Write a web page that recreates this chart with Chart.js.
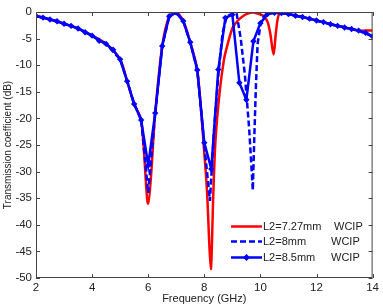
<!DOCTYPE html>
<html>
<head>
<meta charset="utf-8">
<script src="https://cdn.jsdelivr.net/npm/chart.js@4"></script>
<style>
  html, body { margin: 0; padding: 0; background: #fff; }
  #wrap { width: 383px; height: 305px; }
</style>
</head>
<body>
<div id="wrap"><canvas id="transChart" width="383" height="305"></canvas></div>
<script>
// WCIP transmission coefficient for three values of L2
const seriesLabels = ['L2=7.27mm', 'L2=8mm', 'L2=8.5mm'];
const methodLabels = ['WCIP', 'WCIP', 'WCIP'];

// L2=7.27mm (solid red)
const freqRed = [2, 2.5, 3, 3.5, 4, 4.5, 5, 5.25, 5.5, 5.75, 6, 6.25, 6.5, 6.75, 7, 7.25, 7.5, 7.75,
  8, 8.1, 8.23, 8.32, 8.4, 8.55, 8.7, 8.8, 9, 9.2, 9.4, 9.6, 9.75, 9.9, 10.1, 10.25, 10.35, 10.47,
  10.55, 10.65, 10.8, 11, 11.5, 12, 12.5, 13, 13.5, 13.75, 14];
const s21Red = [-0.75, -1.4, -2.2, -3.1, -4.45, -6.0, -8.9, -13.0, -17.3, -20.3, -36.0, -19.0, -6.4, -0.8, -0.1, -1.7, -5.7, -10.9,
  -26.5, -34.0, -48.3, -34.3, -24.0, -14.9, -9.0, -6.7, -3.1, -1.6, -0.7, -0.2, -0.1, -0.3, -0.7, -1.8, -4.0, -8.0,
  -4.0, -0.6, -0.2, -0.4, -0.95, -1.6, -2.3, -2.9, -3.5, -3.5, -3.5];

// L2=8mm (dashed blue)
const freqDash = [2, 2.5, 3, 3.5, 4, 4.5, 5, 5.25, 5.5, 5.75, 6, 6.25, 6.5, 6.75, 7, 7.25, 7.5, 7.75,
  8, 8.2, 8.35, 8.5, 8.65, 8.8, 9, 9.15, 9.3, 9.45, 9.6, 9.73, 9.78, 9.84, 9.9, 10, 10.1, 10.25,
  10.5, 11, 11.5, 12, 12.5, 13, 13.5, 14];
const s21Dash = [-0.75, -1.4, -2.2, -3.1, -4.45, -6.0, -8.9, -13.0, -17.3, -20.3, -34.0, -19.0, -6.4, -0.8, -0.1, -1.7, -5.7, -10.9,
  -25.0, -35.5, -22.0, -11.8, -4.0, -0.8, -0.3, -0.2, -5.0, -12.0, -22.0, -33.5, -24.0, -14.0, -6.0, -2.5, -1.0, -0.3,
  -0.15, -0.4, -0.95, -1.6, -2.3, -2.9, -3.5, -4.6];

// L2=8.5mm (line with markers), every 0.25 GHz
const freqStar = [2, 2.25, 2.5, 2.75, 3, 3.25, 3.5, 3.75, 4, 4.25, 4.5, 4.75, 5, 5.25, 5.5, 5.75,
  6, 6.25, 6.5, 6.75, 7, 7.25, 7.5, 7.75, 8, 8.25, 8.5, 8.75, 9, 9.25, 9.5, 9.75,
  10, 10.25, 10.5, 10.75, 11, 11.25, 11.5, 11.75, 12, 12.25, 12.5, 12.75, 13, 13.25, 13.5, 13.75, 14];
const s21Star = [-0.75, -1.05, -1.4, -1.75, -2.2, -2.6, -3.1, -3.8, -4.45, -5.4, -6.0, -7.1, -8.9, -13.0, -17.3, -20.3,
  -28.8, -19.0, -6.4, -0.8, -0.1, -1.7, -5.7, -10.9, -24.6, -29.5, -10.8, -1.1, -0.5, -13.3, -16.5, -5.5,
  -2.1, -0.4, -0.15, -0.2, -0.4, -0.7, -0.95, -1.25, -1.6, -1.9, -2.3, -2.6, -2.9, -3.2, -3.5, -3.9, -4.6];

const xTicks = [2, 4, 6, 8, 10, 12, 14];
const yTicks = [0, -5, -10, -15, -20, -25, -30, -35, -40, -45, -50];

function toPoints(xs, ys) {
  return xs.map((x, i) => ({ x: x, y: ys[i] }));
}

const RED = '#ff0000';
const BLUE = '#0000ff';
const FONT = 'Liberation Sans, Arial, sans-serif';

// box around the plot + inward tick marks (matlab style) + legend in the corner
const matlabFrame = {
  id: 'matlabFrame',
  afterDraw(chart) {
    const ctx = chart.ctx;
    const a = chart.chartArea;
    const xs = chart.scales.x, ys = chart.scales.y;
    ctx.save();
    ctx.strokeStyle = '#444';
    ctx.lineWidth = 1;
    ctx.strokeRect(a.left + 0.5, a.top + 0.5, a.right - a.left - 1, a.bottom - a.top - 1);
    ctx.beginPath();
    xTicks.forEach(v => {
      const px = Math.round(xs.getPixelForValue(v)) + 0.5;
      ctx.moveTo(px, a.bottom); ctx.lineTo(px, a.bottom - 4);
      ctx.moveTo(px, a.top); ctx.lineTo(px, a.top + 4);
    });
    yTicks.forEach(v => {
      const py = Math.round(ys.getPixelForValue(v)) + 0.5;
      ctx.moveTo(a.left, py); ctx.lineTo(a.left + 4, py);
      ctx.moveTo(a.right, py); ctx.lineTo(a.right - 4, py);
    });
    ctx.stroke();

    // legend
    const rows = [226, 241, 257];
    ctx.font = '11px ' + FONT;
    ctx.textBaseline = 'middle';
    chart.data.datasets.forEach((ds, i) => {
      const y = rows[i] + 0.5;
      ctx.strokeStyle = ds.borderColor;
      ctx.lineWidth = 2.5;
      ctx.setLineDash(ds.borderDash || []);
      ctx.beginPath();
      ctx.moveTo(231, y); ctx.lineTo(262, y);
      ctx.stroke();
      ctx.setLineDash([]);
      if (ds.pointRadius > 0) {
        ctx.fillStyle = ds.borderColor;
        ctx.beginPath();
        ctx.moveTo(246.5, y - 3.5); ctx.lineTo(250, y); ctx.lineTo(246.5, y + 3.5); ctx.lineTo(243, y);
        ctx.closePath();
        ctx.fill();
      }
      ctx.fillStyle = '#222';
      ctx.textAlign = 'left';
      ctx.fillText(ds.label, 263, y);
      ctx.fillText(methodLabels[i], i === 0 ? 334 : 331, y);
    });
    ctx.restore();
  }
};

const ctx = document.getElementById('transChart').getContext('2d');
new Chart(ctx, {
  type: 'line',
  data: {
    datasets: [
      {
        label: seriesLabels[0],
        data: toPoints(freqRed, s21Red),
        borderColor: RED,
        borderWidth: 2.5,
        pointRadius: 0,
        tension: 0.3,
        order: 3
      },
      {
        label: seriesLabels[1],
        data: toPoints(freqDash, s21Dash),
        borderColor: BLUE,
        borderWidth: 2.5,
        borderDash: [6, 3],
        pointRadius: 0,
        tension: 0,
        order: 2
      },
      {
        label: seriesLabels[2],
        data: toPoints(freqStar, s21Star),
        borderColor: BLUE,
        backgroundColor: BLUE,
        borderWidth: 2.5,
        pointStyle: 'rectRot',
        pointRadius: 3.2,
        pointBorderWidth: 0,
        tension: 0,
        order: 1
      }
    ]
  },
  options: {
    responsive: false,
    animation: false,
    events: [],
    layout: { padding: { top: 12, right: 7, left: 0, bottom: 0 } },
    plugins: {
      legend: { display: false },
      tooltip: { enabled: false }
    },
    scales: {
      x: {
        type: 'linear',
        min: 2, max: 14,
        afterBuildTicks: s => { s.ticks = xTicks.map(v => ({ value: v })); },
        afterFit: s => { s.height = 27; },
        grid: { display: false, drawTicks: false },
        border: { display: false },
        ticks: { padding: 4, color: '#222', maxRotation: 0, font: { family: FONT, size: 11.5, lineHeight: 1 } },
        title: {
          display: true, text: 'Frequency (GHz)', color: '#222',
          font: { family: FONT, size: 11, lineHeight: 1 }, padding: { top: 2, bottom: 1 }
        }
      },
      y: {
        min: -50, max: 0,
        afterBuildTicks: s => { s.ticks = yTicks.map(v => ({ value: v })); },
        afterFit: s => { s.width = 36; },
        grid: { display: false, drawTicks: false },
        border: { display: false },
        ticks: { padding: 4, color: '#222', font: { family: FONT, size: 11.5 } },
        title: {
          display: true, text: 'Transmission coefficient (dB)', color: '#222',
          font: { family: FONT, size: 10 }, padding: { top: 2, bottom: 0 }
        }
      }
    }
  },
  plugins: [matlabFrame]
});
</script>
</body>
</html>
